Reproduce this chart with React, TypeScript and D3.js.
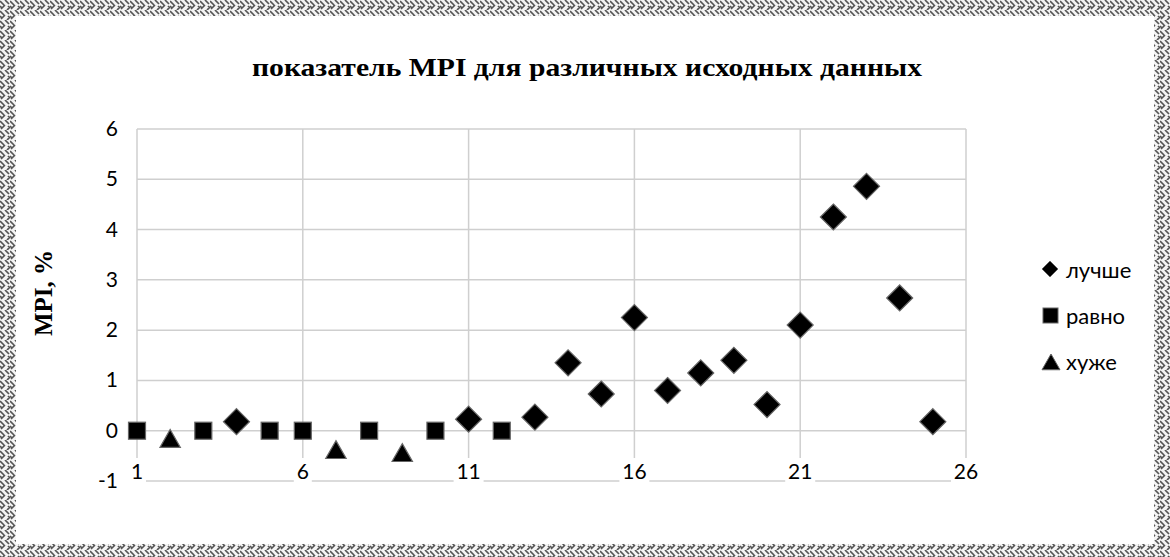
import React from "react";
import * as d3 from "d3";

const xs = d3.range(1, 26);
const better: [number, number][] = [
  [4, 0.18], [11, 0.23], [13, 0.27], [14, 1.35], [15, 0.73], [16, 2.25], [17, 0.8],
  [18, 1.15], [19, 1.4], [20, 0.52], [21, 2.1], [22, 4.25], [23, 4.86], [24, 2.64], [25, 0.18],
];
const equal: [number, number][] = [
  [1, 0], [3, 0], [5, 0], [6, 0], [8, 0], [10, 0], [12, 0],
];
const worse: [number, number][] = [
  [2, -0.18], [7, -0.4], [9, -0.46],
];
const xTicks = [1, 6, 11, 16, 21, 26];
const yTicks = [-1, 0, 1, 2, 3, 4, 5, 6];
const legendLabels = ["лучше", "равно", "хуже"];
const title = "показатель MPI для различных исходных данных";
const yTitle = "MPI, %";

const W = 1170, H = 557;

export default function App() {
  const x = d3.scaleLinear().domain([1, 26]).range([137, 966]);
  const y = d3.scaleLinear().domain([-1, 6]).range([481, 129]);
  const diamond = (cx: number, cy: number, r: number) =>
    `M${cx},${cy - r}L${cx + r},${cy}L${cx},${cy + r}L${cx - r},${cy}Z`;
  const tri = (cx: number, cy: number, s: number) =>
    `M${cx},${cy - s * 0.6}L${cx + s * 0.6},${cy + s * 0.45}L${cx - s * 0.6},${cy + s * 0.45}Z`;
  const numFont = "Lato, 'Open Sans', sans-serif";
  const serif = "'Liberation Serif', 'Times New Roman', serif";
  const markStroke = "#666";
  return (
    <svg width={W} height={H} style={{ position: "absolute", left: 0, top: 0, background: "#fff" }}>
      <defs>
        <pattern id="brd" width="10" height="10" patternUnits="userSpaceOnUse">
          <rect width="10" height="10" fill="#f4f4f4" />
          <path d="M0,1 L4,5 M5,0 L9,4 M1,9 L5,5 M7,10 L10,7 M8,6 L10,8 M0,6 L2,8" stroke="#555" strokeWidth="1.7" />
        </pattern>
      </defs>
      <rect x={0} y={0} width={W} height={H} fill="url(#brd)" />
      <rect x={16} y={16} width={W - 32} height={H - 29} fill="#fff" />
      <text x={587} y={76} textAnchor="middle" fontFamily={serif} fontWeight="bold" fontSize={25} textLength={670} lengthAdjust="spacingAndGlyphs">{title}</text>
      <text transform={`translate(52,293) rotate(-90)`} textAnchor="middle" fontFamily={serif} fontWeight="bold" fontSize={25}>{yTitle}</text>
      {yTicks.map(t => (
        <line key={"gy" + t} x1={x(1)} x2={x(26)} y1={y(t)} y2={y(t)} stroke="#cfcfcf" strokeWidth={1.5} />
      ))}
      {xTicks.map(t => (
        <line key={"gx" + t} x1={x(t)} x2={x(t)} y1={y(6)} y2={y(-1)} stroke="#cfcfcf" strokeWidth={1.5} />
      ))}
      {yTicks.map(t => (
        <text key={"ty" + t} x={118} y={y(t) + 7} textAnchor="end" fontFamily={numFont} fontSize={21}>{t}</text>
      ))}
      {xTicks.map(t => (
        <g key={"tx" + t}>
          <rect x={x(t) - (t < 10 ? 9 : 15)} y={458} width={t < 10 ? 18 : 30} height={27} fill="#fff" />
          <text x={x(t)} y={479} textAnchor="middle" fontFamily={numFont} fontSize={21}>{t}</text>
        </g>
      ))}
      {equal.map(([a, b]) => (
        <rect key={"e" + a} x={x(a) - 8.5} y={y(b) - 8.5} width={17} height={17} fill="#000" stroke={markStroke} strokeWidth={1.2} />
      ))}
      {worse.map(([a, b]) => (
        <path key={"w" + a} d={tri(x(a), y(b), 17)} fill="#000" stroke={markStroke} strokeWidth={1.2} />
      ))}
      {better.map(([a, b]) => (
        <path key={"b" + a} d={diamond(x(a), y(b), 13)} fill="#000" stroke={markStroke} strokeWidth={1.2} />
      ))}
      <path d={diamond(1050, 269, 8)} fill="#000" stroke={markStroke} />
      <rect x={1043} y={308} width={15} height={15} fill="#000" stroke={markStroke} />
      <path d={tri(1051, 363, 15)} fill="#000" stroke={markStroke} />
      {legendLabels.map((l, i) => (
        <text key={l} x={1066} y={278 + i * 46} fontFamily={numFont} fontSize={22}>{l}</text>
      ))}
    </svg>
  );
}
